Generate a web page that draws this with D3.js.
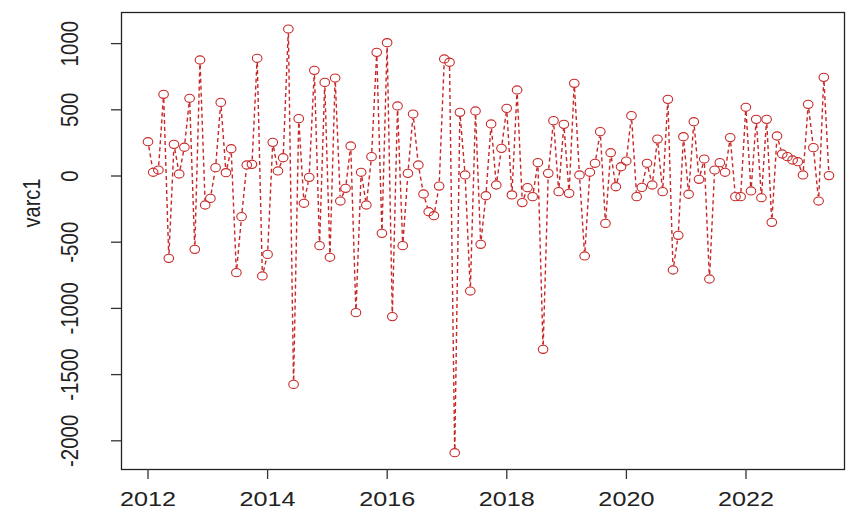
<!DOCTYPE html>
<html>
<head>
<meta charset="utf-8">
<script src="https://cdn.jsdelivr.net/npm/d3@7"></script>
<style>
  body { margin: 0; background: #fff; }
  svg { display: block; font-family: "Liberation Sans", Arial, sans-serif; }
</style>
</head>
<body>
<script>
// 132 observations starting at 2012, spaced evenly (~32 days apart)
const startYear = 2012;
const stepYears = 0.08693;
const values = [
  259, 28, 45, 617, -622, 239, 15, 217, 587, -554, 876, -219,
  -169, 63, 556, 25, 206, -730, -307, 83, 88, 889, -755, -592,
  254, 38, 138, 1110, -1574, 433, -206, -10, 798, -526, 707, -614,
  740, -189, -93, 227, -1032, 28, -219, 146, 934, -433, 1007, -1062,
  529, -526, 20, 468, 83, -136, -270, -300, -76, 884, 859, -2090,
  481, 8, -869, 491, -516, -149, 393, -68, 209, 511, -143, 650,
  -201, -88, -156, 101, -1309, 20, 418, -118, 390, -131, 700, 8,
  -604, 28, 96, 335, -358, 176, -81, 70, 113, 456, -156, -86,
  96, -68, 279, -118, 579, -710, -448, 297, -138, 410, -25, 128,
  -778, 45, 101, 28, 290, -156, -156, 519, -113, 428, -164, 428,
  -350, 302, 166, 146, 121, 108, 8, 541, 214, -189, 745, 3
];
const xTicks = [2012, 2014, 2016, 2018, 2020, 2022];
const yTicks = [-2000, -1500, -1000, -500, 0, 500, 1000];
const yLabel = "varc1";

const width = 846, height = 512;
const box = { left: 121, right: 845, top: 12, bottom: 469 };
const red = "#c82828";

const svg = d3.select("body").append("svg")
  .attr("width", width)
  .attr("height", height);

const x = d3.scaleLinear().domain([2011.5485, 2023.6555]).range([box.left, box.right]);
const y = d3.scaleLinear().domain([-2213, 1238.7]).range([box.bottom, box.top]);

const pts = values.map((v, i) => ({ t: startYear + i * stepYears, v }));

// plot box
svg.append("rect")
  .attr("x", box.left + 0.5).attr("y", box.top + 0.5)
  .attr("width", box.right - box.left - 1).attr("height", box.bottom - box.top)
  .attr("fill", "none").attr("stroke", "#222").attr("stroke-width", 1.3);

// x axis ticks + labels
const xa = svg.append("g");
xa.selectAll("line").data(xTicks).enter().append("line")
  .attr("x1", d => x(d)).attr("x2", d => x(d))
  .attr("y1", box.bottom).attr("y2", box.bottom + 10)
  .attr("stroke", "#333").attr("stroke-width", 1.3);
xa.selectAll("text").data(xTicks).enter().append("text")
  .attr("transform", d => `translate(${x(d)},506) scale(1.2,1)`)
  .attr("text-anchor", "middle")
  .attr("font-size", 21)
  .attr("fill", "#222")
  .text(d => d);

// y axis ticks + labels
const ya = svg.append("g");
ya.selectAll("line").data(yTicks).enter().append("line")
  .attr("x1", box.left - 10).attr("x2", box.left)
  .attr("y1", d => y(d)).attr("y2", d => y(d))
  .attr("stroke", "#333").attr("stroke-width", 1.3);
ya.selectAll("text").data(yTicks).enter().append("text")
  .attr("transform", d => `translate(78,${y(d)}) scale(1.15,1) rotate(-90)`)
  .attr("text-anchor", "middle")
  .attr("font-size", 20.5)
  .attr("fill", "#222")
  .text(d => d);

svg.append("text")
  .attr("transform", `translate(40,203) scale(1.15,1) rotate(-90)`)
  .attr("text-anchor", "middle")
  .attr("font-size", 20)
  .attr("fill", "#222")
  .text(yLabel);

// type = "b": dashed segments that stop short of each point
const gap = 4.8;
const segs = [];
for (let i = 1; i < pts.length; i++) {
  const x0 = x(pts[i - 1].t), y0 = y(pts[i - 1].v);
  const x1 = x(pts[i].t), y1 = y(pts[i].v);
  const len = Math.hypot(x1 - x0, y1 - y0);
  if (len <= 2 * gap) continue;
  const ux = (x1 - x0) / len, uy = (y1 - y0) / len;
  segs.push([x0 + ux * gap, y0 + uy * gap, x1 - ux * gap, y1 - uy * gap]);
}
svg.append("g").selectAll("line").data(segs).enter().append("line")
  .attr("x1", d => d[0]).attr("y1", d => d[1])
  .attr("x2", d => d[2]).attr("y2", d => d[3])
  .attr("stroke", red).attr("stroke-width", 1.4)
  .attr("stroke-dasharray", "4,3");

svg.append("g").selectAll("ellipse").data(pts).enter().append("ellipse")
  .attr("cx", d => x(d.t))
  .attr("cy", d => y(d.v))
  .attr("rx", 4.8).attr("ry", 4.1)
  .attr("fill", "none")
  .attr("stroke", red).attr("stroke-width", 1.1);
</script>
</body>
</html>
